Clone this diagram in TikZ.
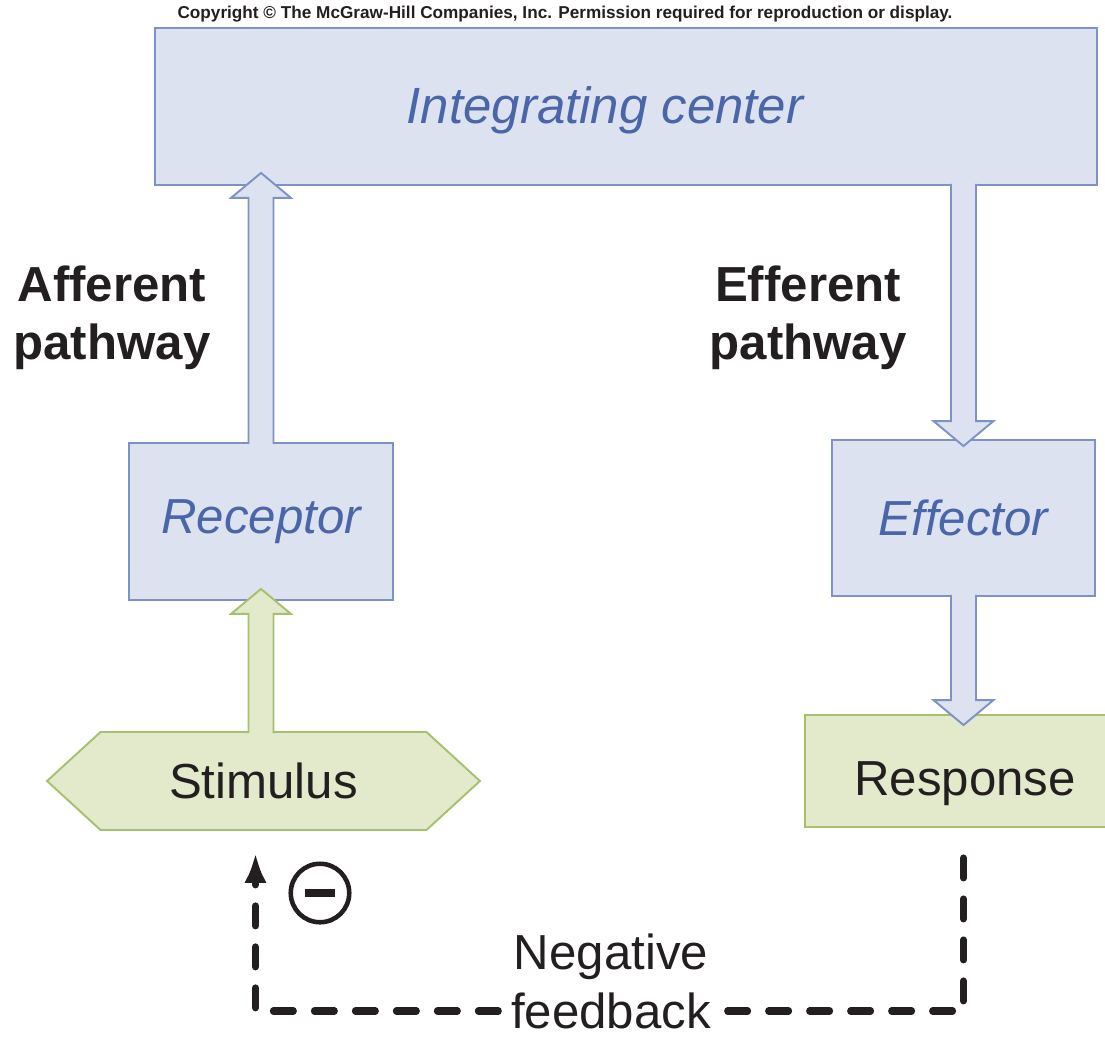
\documentclass[tikz,border=0pt]{standalone}
\usepackage{fontspec}
\setmainfont{Liberation Sans}
\usetikzlibrary{positioning,calc,arrows.meta,shapes.symbols}

\definecolor{boxblue}{HTML}{DCE2F0}
\definecolor{lineblue}{HTML}{7E92C6}
\definecolor{textblue}{HTML}{4A66A8}
\definecolor{boxgreen}{HTML}{E2EACB}
\definecolor{linegreen}{HTML}{A8C06E}
\definecolor{ink}{HTML}{231F20}

\tikzset{
  bluebox/.style={draw=lineblue, fill=boxblue, line width=1.1pt, minimum height=3.14cm},
  greenbox/.style={draw=linegreen, fill=boxgreen, line width=1.1pt},
  bluearrow/.style={draw=lineblue, fill=boxblue, line width=1.1pt},
  greenarrow/.style={draw=linegreen, fill=boxgreen, line width=1.1pt},
  boxtext/.style={font=\fontsize{28}{33}\selectfont\itshape, text=textblue},
  bigtext/.style={font=\fontsize{28}{33}\selectfont, text=ink},
  pathlabel/.style={font=\fontsize{28}{33}\selectfont\bfseries, text=ink, align=center},
  fbline/.style={draw=ink, line width=4pt, line cap=round, dash pattern=on 0.4cm off 0.42cm},
}

% hollow block arrow: style, start, tip (vertical)
\newcommand\fatarrow[3]{%
  \filldraw[#1] let \p1=(#2), \p2=(#3), \n1={sign(\y2-\y1)} in
    (\x1-0.25cm,\y1) -- (\x1-0.25cm,\y2-\n1*0.5cm) -- (\x1-0.6cm,\y2-\n1*0.5cm)
    -- (\x1,\y2) -- (\x1+0.6cm,\y2-\n1*0.5cm) -- (\x1+0.25cm,\y2-\n1*0.5cm)
    -- (\x1+0.25cm,\y1);
}

\begin{document}
\begin{tikzpicture}[x=0.02cm, y=-0.02cm]
\useasboundingbox (0,0) rectangle (1105,1037);

\node[text=ink] (copy) at (565,14)
  {\resizebox{15.5cm}{!}{\bfseries Copyright \textcopyright{} The McGraw-Hill Companies, Inc. Permission required for reproduction or display.}};

% boxes
\node[bluebox, minimum width=18.84cm] (ic) at (626,106.5) {};
\node[boxtext, font=\fontsize{29}{34}\selectfont\itshape] (iclabel) at (605,110) {Integrating center};
\node[bluebox, boxtext, minimum width=5.28cm] (rec) at (261,521.5) {Receptor};
\node[bluebox, boxtext, minimum width=5.26cm, minimum height=3.12cm] (eff) at (963.5,518) {Effector};
\node[greenbox, bigtext, minimum width=6.4cm, minimum height=2.24cm,
      text height=0.98cm, text depth=0pt] (resp) at (965,771) {Response};
\node[signal, signal to=east and west, signal pointer angle=85, greenbox, bigtext,
      minimum width=8.66cm, minimum height=1.96cm] (stim) at (263.5,781) {Stimulus};

\node[pathlabel] (afflabel) at (112,318) {Afferent\\pathway};
\node[pathlabel] (efflabel) at (808,318) {Efferent\\pathway};

% block arrows
\fatarrow{bluearrow}{$(rec.north)+(0,2)$}{$(ic.south)+(0,-13)$}
\fatarrow{bluearrow}{$(ic.south -| eff.north)+(0,-2)$}{$(eff.north)+(0,7)$}
\fatarrow{greenarrow}{$(stim.north -| rec.south)+(0,2)$}{$(rec.south)+(0,-12)$}
\fatarrow{bluearrow}{$(eff.south)+(0,-2)$}{$(resp.north -| eff.south)+(0,11)$}

% negative feedback loop
\node[bigtext, fill=white, inner xsep=0.25cm] (fbk) at (611,1011) {feedback};
\node[bigtext] (neg) at (611,957) {Negative};
\coordinate (fbtop) at ($(resp.south -| eff.south)+(0,30)$);
\coordinate (fbend) at ($(stim.south)+(-8,22)$);
\draw[fbline] (fbtop) |- (fbk.east);
\draw[fbline, -{Latex[length=0.6cm,width=0.45cm]}] (fbk.west) -| (fbend);
\node[circle, draw=ink, line width=2.6pt, minimum size=1.17cm, inner sep=0pt] (minus) at (320,893)
  {\textcolor{ink}{\rule{0.6cm}{0.15cm}}};
\end{tikzpicture}
\end{document}
